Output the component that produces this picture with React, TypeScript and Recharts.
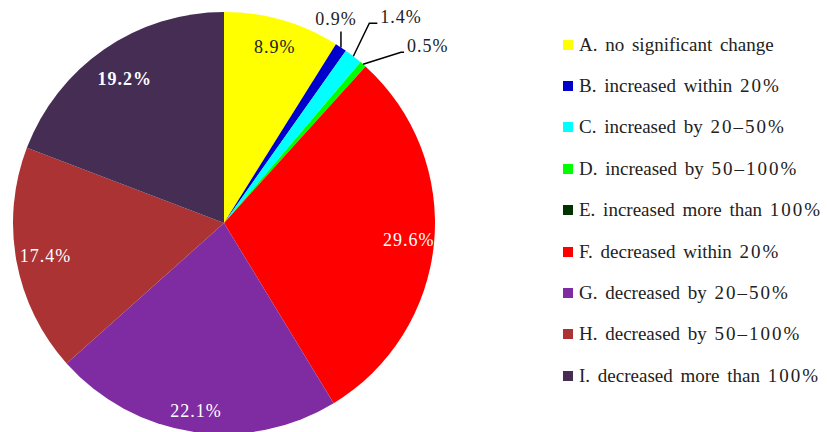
import React from 'react';
import { PieChart, Pie, Cell, Legend } from 'recharts';

const categories = [
  'A. no significant change',
  'B. increased within 20%',
  'C. increased by 20\u201350%',
  'D. increased by 50\u2013100%',
  'E. increased more than 100%',
  'F. decreased within 20%',
  'G. decreased by 20\u201350%',
  'H. decreased by 50\u2013100%',
  'I. decreased more than 100%',
];
const shares = [8.9, 0.9, 1.4, 0.5, 0, 29.6, 22.1, 17.4, 19.2];
const colors = ['#FFFF00', '#0000CC', '#00FFFF', '#00FF00', '#003300', '#FF0000', '#7F2CA2', '#AB3333', '#452D54'];
const labelColors = ['#222', '#222', '#222', '#222', '#222', '#fff', '#fff', '#fff', '#fff'];
// how far out (fraction of radius) each inside label sits
const labelRadius = [0.87, 0, 0, 0, 0, 0.88, 0.9, 0.86, 0.83];

const data = categories.map((name, i) => ({ name, value: shares[i] }));

// leader lines for the thin slices
const leaders: Record<number, { dx: number; dy: number; run: number; anchor: 'start' | 'middle' }> = {
  1: { dx: 0, dy: -16, run: 0, anchor: 'middle' },
  2: { dx: 16, dy: -33, run: 8, anchor: 'start' },
  3: { dx: 38, dy: -12, run: 3, anchor: 'start' },
};

const FONT = '"Liberation Serif", "Times New Roman", serif';
const RAD = Math.PI / 180;

const renderLabel = (props: any) => {
  const { cx, cy, midAngle, outerRadius, index, value } = props;
  if (!value) return null;
  const cos = Math.cos(-midAngle * RAD);
  const sin = Math.sin(-midAngle * RAD);
  const text = `${value.toFixed(1)}%`;
  const lead = leaders[index];
  if (lead) {
    const x0 = cx + outerRadius * cos;
    const y0 = cy + outerRadius * sin;
    const x1 = x0 + lead.dx;
    const y1 = y0 + lead.dy;
    const x2 = x1 + lead.run;
    return (
      <g>
        <polyline points={`${x0},${y0} ${x1},${y1} ${x2},${y1}`} fill="none" stroke="#000" strokeWidth={1.5} />
        <text
          x={lead.anchor === 'middle' ? x1 - 5 : x2 + 3}
          y={lead.anchor === 'middle' ? y1 - 6 : y1}
          textAnchor={lead.anchor}
          fill="#222"
          fontSize={18}
          letterSpacing={1}
          fontFamily={FONT}
        >
          {text}
        </text>
      </g>
    );
  }
  const r = outerRadius * labelRadius[index];
  return (
    <text
      x={cx + r * cos}
      y={cy + r * sin}
      textAnchor="middle"
      dominantBaseline="central"
      fill={labelColors[index]}
      fontSize={18}
      letterSpacing={1}
      fontWeight={index === 8 ? 'bold' : 'normal'}
      fontFamily={FONT}
    >
      {text}
    </text>
  );
};

const renderLegend = () => (
  <div style={{ fontFamily: FONT, fontSize: 19, color: '#222', wordSpacing: 3 }}>
    {categories.map((c, i) => (
      <div key={c} style={{ display: 'flex', alignItems: 'center', height: 41.4, whiteSpace: 'nowrap' }}>
        <span style={{ width: 10, height: 10, background: colors[i], marginRight: 6, display: 'inline-block', flex: 'none' }} />
        <span>
          {c.split(/([0-9\u2013%]+)/).map((part, j) =>
            /[0-9%]/.test(part) ? (
              <span key={j} style={{ letterSpacing: 2 }}>{part}</span>
            ) : (
              <span key={j}>{part}</span>
            )
          )}
        </span>
      </div>
    ))}
  </div>
);

export default function App() {
  return (
    <div style={{ position: 'absolute', left: 0, top: 0, background: '#fff' }}>
      <PieChart width={827} height={432} margin={{ top: 0, right: 0, bottom: 0, left: 0 }}>
        <Pie
          data={data}
          dataKey="value"
          nameKey="name"
          cx={224}
          cy={223}
          outerRadius={211}
          startAngle={90}
          endAngle={-270}
          stroke="none"
          label={renderLabel}
          labelLine={false}
          isAnimationActive={false}
        >
          {data.map((d, i) => (
            <Cell key={d.name} fill={colors[i]} />
          ))}
        </Pie>
        <Legend content={renderLegend} wrapperStyle={{ left: 563, top: 24, width: 264 }} />
      </PieChart>
    </div>
  );
}
